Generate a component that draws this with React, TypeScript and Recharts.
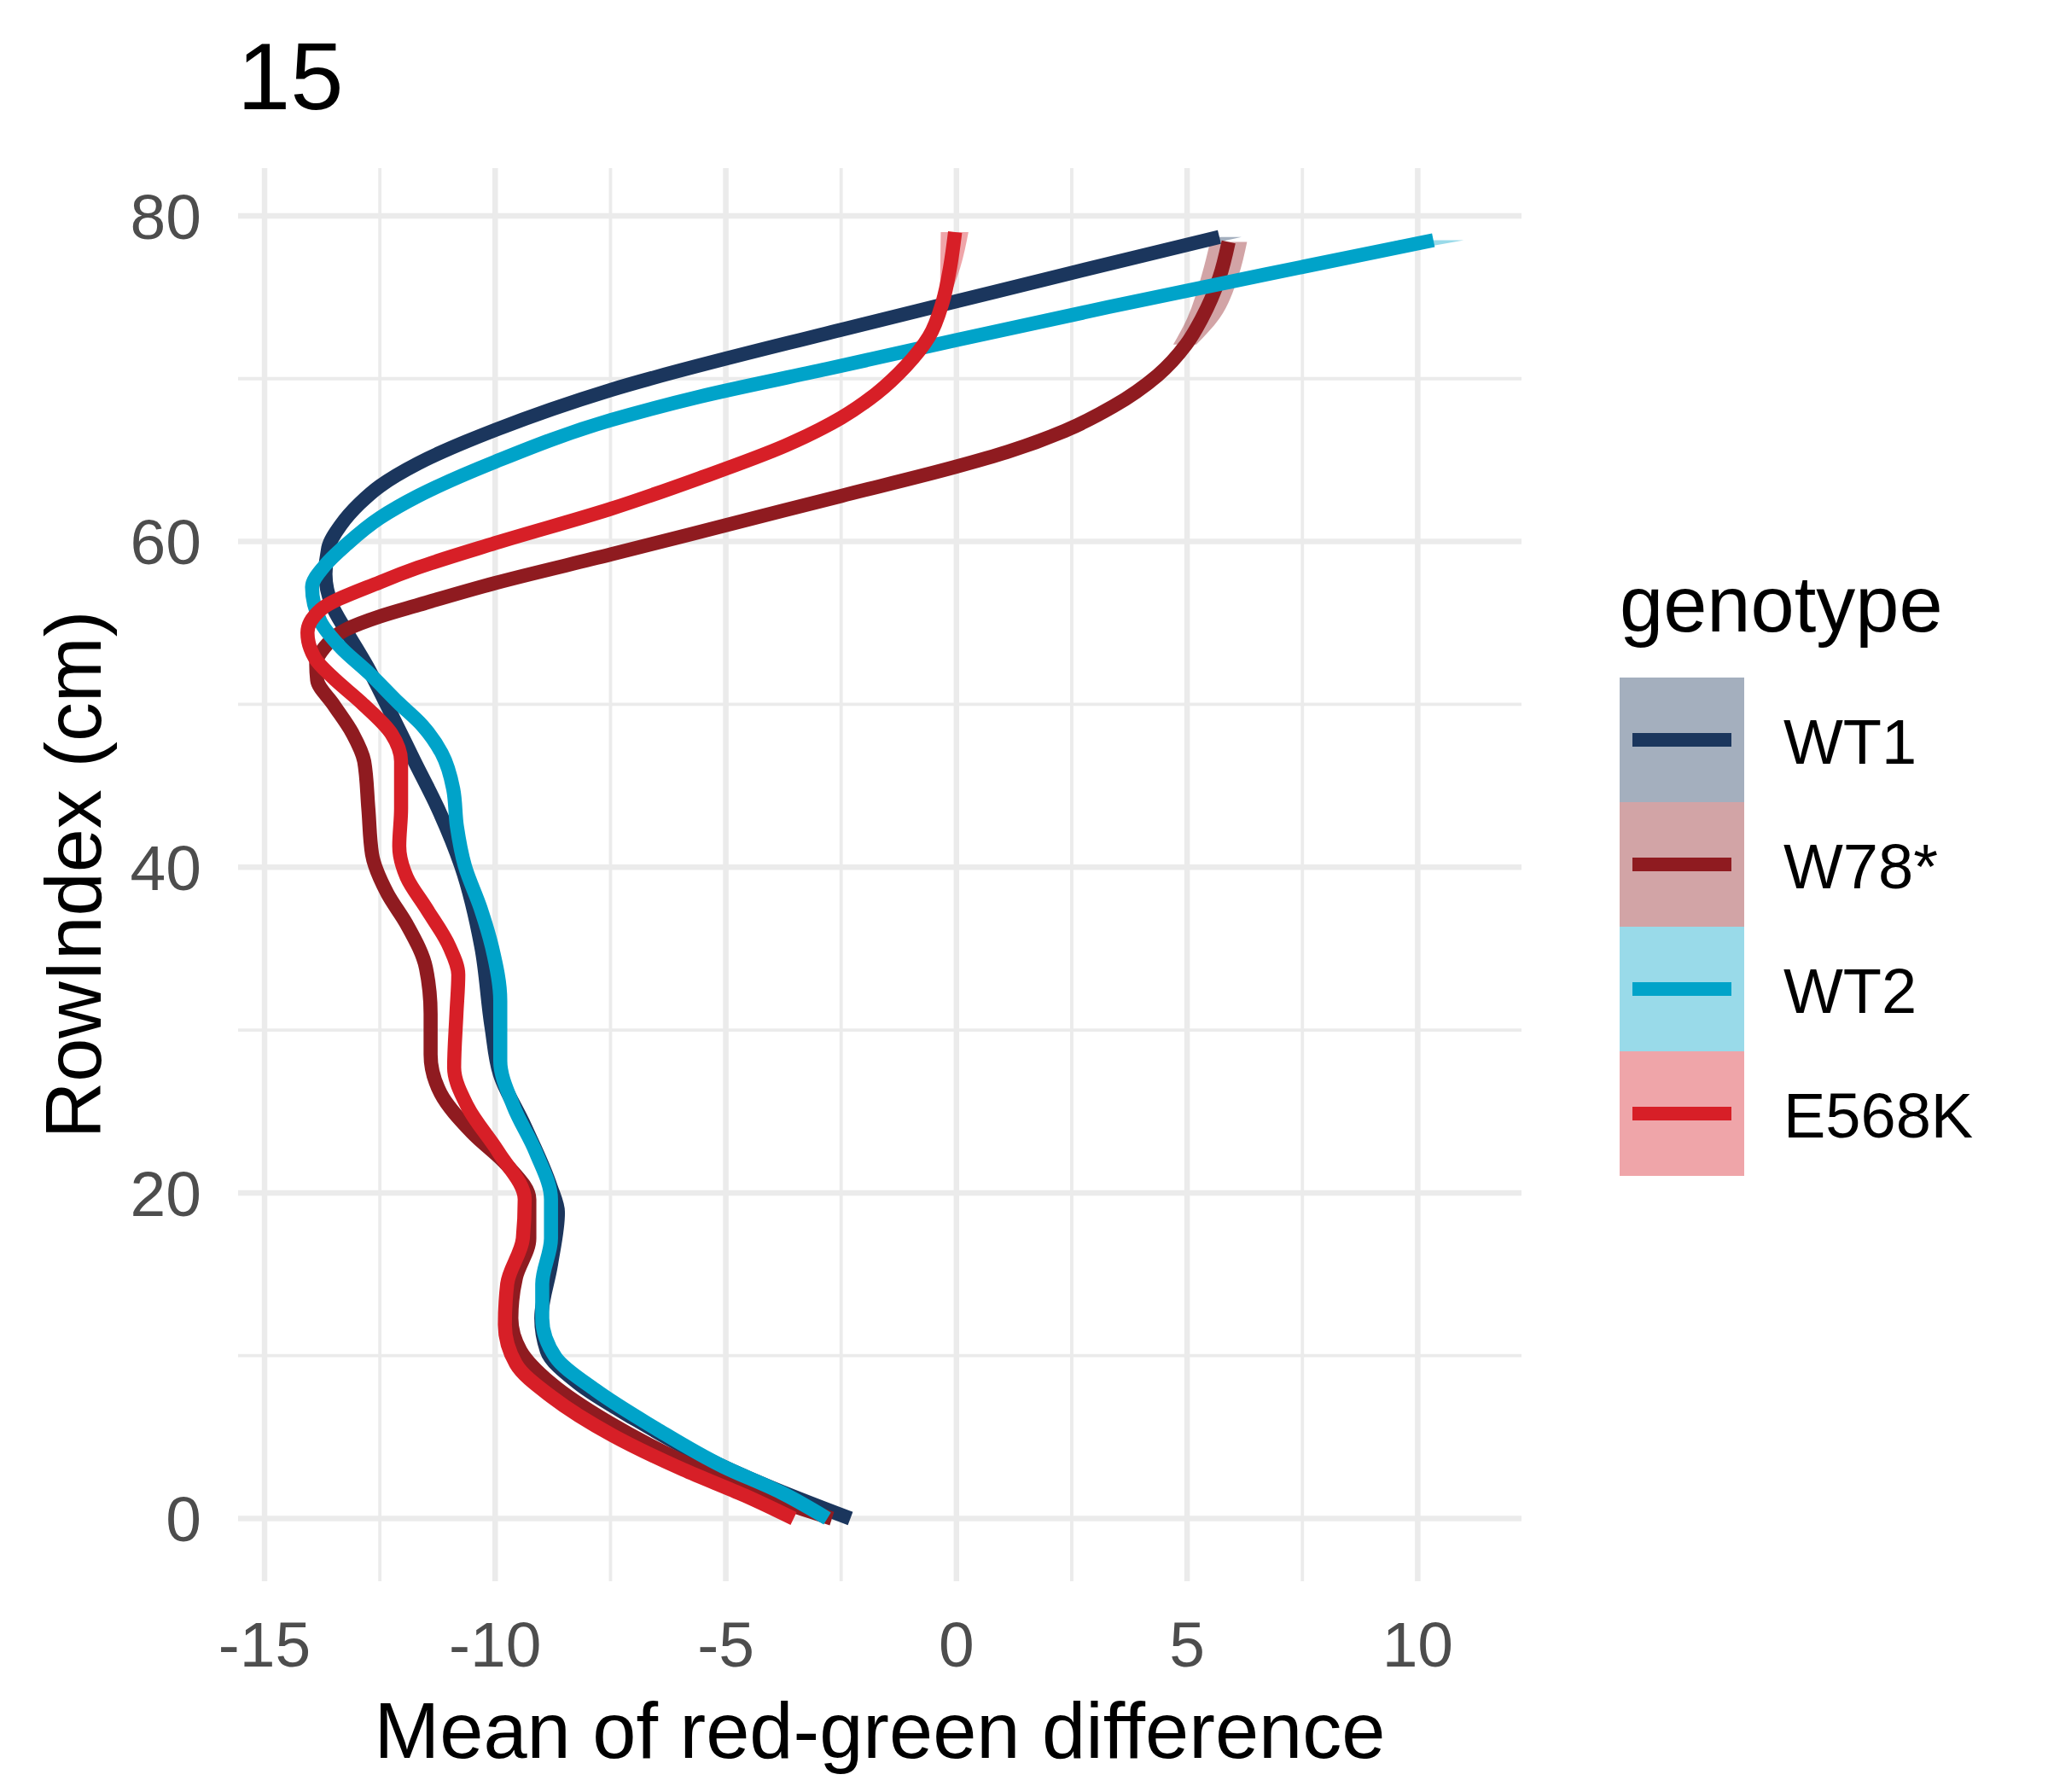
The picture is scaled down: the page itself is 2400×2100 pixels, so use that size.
import React from "react";
import { ComposedChart, Line, Area, XAxis, YAxis, CartesianGrid } from "recharts";

const FONT = "'Liberation Sans', Arial, sans-serif";

const genotypes = ["WT1", "W78*", "WT2", "E568K"];
const colors = ["#1b365d", "#8f1b20", "#00a3c9", "#d71f27"];

// smoothed curves (RowIndex in cm, mean red-green difference)
const wt1Row = [0, 2.0, 3.85, 6.1, 8.3, 10.3, 12.3, 15.6, 18.8, 20.4, 24.1, 27.3, 30.2, 35.1, 40.1, 43.6, 46.5, 49.1, 52.4, 54.5, 56.1, 58.0, 59.6, 61.0, 62.3, 63.4, 64.8, 66.85, 69.3, 73.0, 74.75, 76.5, 78.7];
const wt1Mean = [-2.3, -4.1, -5.54, -6.97, -8.2, -8.88, -9.0, -8.79, -8.64, -8.8, -9.36, -9.9, -10.08, -10.3, -10.74, -11.24, -11.75, -12.2, -12.79, -13.23, -13.54, -13.68, -13.62, -13.35, -12.95, -12.5, -11.67, -10.0, -7.5, -2.5, 0, 2.5, 5.7];

const w78Row = [0, 1.8, 3.6, 5.9, 8.3, 10.3, 12.3, 14.8, 17.2, 19.6, 21.7, 23.7, 26.1, 28.5, 31.0, 33.8, 36.5, 38.4, 40.8, 43.6, 46.5, 48.2, 50.0, 51.5, 52.5, 53.5, 54.6, 55.4, 56.1, 57.45, 59.2, 61.0, 62.8, 64.6, 65.5, 66.8, 68.3, 70.2, 72.1, 73.7, 76.2, 78.4];
const w78Mean = [-2.7, -4.56, -6.0, -7.54, -8.79, -9.45, -9.65, -9.55, -9.26, -9.26, -9.74, -10.5, -11.18, -11.4, -11.4, -11.5, -11.92, -12.34, -12.67, -12.75, -12.84, -13.09, -13.51, -13.86, -13.88, -13.7, -13.23, -12.5, -11.67, -10.0, -7.5, -5.0, -2.5, 0, 1.1, 2.35, 3.4, 4.36, 4.98, 5.32, 5.7, 5.9];

const wt2Row = [0, 1.6, 3.2, 5.5, 7.9, 9.9, 12.3, 14.4, 17.2, 19.6, 22.5, 25.3, 28.1, 31.8, 35.1, 37.5, 40.1, 42.5, 44.8, 47.0, 48.7, 50.1, 51.9, 53.5, 55.1, 57.2, 58.5, 59.8, 61.45, 62.8, 64.9, 67.45, 68.9, 70.6, 72.37, 74.4, 76.4, 78.5];
const wt2Mean = [-2.8, -3.8, -5.06, -6.5, -7.83, -8.69, -8.98, -8.98, -8.79, -8.79, -9.12, -9.6, -9.89, -9.89, -10.07, -10.32, -10.66, -10.83, -10.91, -11.16, -11.58, -12.1, -12.73, -13.35, -13.79, -13.97, -13.7, -13.23, -12.5, -11.67, -10.0, -7.5, -5.56, -2.8, 0, 3.3, 6.7, 10.34];

const e568Row = [0, 1.4, 3.0, 5.1, 7.5, 9.5, 11.9, 14.4, 17.2, 19.6, 22.5, 25.3, 27.7, 31.0, 33.4, 35.1, 37.5, 39.4, 41.3, 43.6, 46.5, 48.2, 50.1, 51.7, 52.8, 54.4, 55.8, 57.5, 58.4, 59.9, 62.0, 63.9, 65.9, 67.6, 69.1, 70.76, 72.56, 74.7, 76.8, 79.0];
const e568Mean = [-3.53, -4.58, -5.92, -7.45, -8.79, -9.55, -9.79, -9.74, -9.4, -9.36, -9.93, -10.6, -10.89, -10.84, -10.8, -10.99, -11.5, -11.92, -12.08, -12.04, -12.04, -12.25, -12.9, -13.54, -13.9, -14.07, -13.79, -12.5, -11.67, -10.0, -7.5, -5.56, -3.7, -2.5, -1.73, -1.1, -0.6, -0.3, -0.14, -0.03];

// confidence band, only where it shows past the line (top ends)
const wt1BandRow = [76.5, 78.7];
const wt1BandLo = [2.3, 5.35];
const wt1BandHi = [2.7, 6.18];
const w78BandRow = [72.1, 73.7, 76.2, 78.4];
const w78BandLo = [4.7, 5.0, 5.3, 5.5];
const w78BandHi = [5.2, 5.7, 6.1, 6.3];
const wt2BandRow = [76.4, 78.5];
const wt2BandLo = [6.5, 9.6];
const wt2BandHi = [6.85, 11.0];
const e568BandRow = [74.7, 76.8, 79.0];
const e568BandLo = [-0.36, -0.35, -0.34];
const e568BandHi = [-0.2, 0.08, 0.26];

const xTicks = [-15, -10, -5, 0, 5, 10];
const xMinor = [-12.5, -7.5, -2.5, 2.5, 7.5];
const yTicks = [0, 20, 40, 60, 80];
const yMinor = [10, 30, 50, 70];
const xDomain = [-15.574, 12.25];
const yDomain = [-3.85, 82.93];

const toRows = (rows: number[], means: number[]) => rows.map((y, i) => ({ y, x: means[i] }));
const toBand = (rows: number[], lo: number[], hi: number[]) => rows.map((y, i) => ({ y, lo: lo[i], hi: hi[i] }));

const curves = [toRows(wt1Row, wt1Mean), toRows(w78Row, w78Mean), toRows(wt2Row, wt2Mean), toRows(e568Row, e568Mean)];
const bands = [
  toBand(wt1BandRow, wt1BandLo, wt1BandHi),
  toBand(w78BandRow, w78BandLo, w78BandHi),
  toBand(wt2BandRow, wt2BandLo, wt2BandHi),
  toBand(e568BandRow, e568BandLo, e568BandHi),
];

const W = 2400;
const H = 2100;

function Legend() {
  const keyX = 1898;
  const keyY = 794;
  const key = 146;
  return (
    <svg width={W} height={H} style={{ position: "absolute", left: 0, top: 0, pointerEvents: "none" }}>
      <text x={278} y={128} fontSize={112} fontFamily={FONT} fill="#000">
        15
      </text>
      <text x={keyX} y={740} fontSize={92} fontFamily={FONT} fill="#000">
        genotype
      </text>
      {genotypes.map((g, i) => {
        const top = keyY + i * key;
        return (
          <g key={g}>
            <rect x={keyX} y={top} width={key} height={key} fill={colors[i]} fillOpacity={0.4} />
            <line x1={keyX + 15} x2={keyX + 131} y1={top + key / 2} y2={top + key / 2} stroke={colors[i]} strokeWidth={16} />
            <text x={2090} y={top + key / 2 + 28} fontSize={74} fontFamily={FONT} fill="#000">
              {g}
            </text>
          </g>
        );
      })}
    </svg>
  );
}

export default function App() {
  return (
    <div style={{ position: "absolute", left: 0, top: 0, width: W, height: H, background: "#fff", fontFamily: FONT }}>
      <ComposedChart width={W} height={H} layout="vertical" margin={{ top: 197, right: 617, bottom: 0, left: 0 }}>
        <CartesianGrid xAxisId="minorX" yAxisId="minorY" stroke="#ebebeb" strokeWidth={3.8} syncWithTicks />
        <CartesianGrid stroke="#ebebeb" strokeWidth={6.5} syncWithTicks />
        <XAxis
          type="number"
          domain={xDomain}
          ticks={xTicks}
          allowDataOverflow
          height={247}
          axisLine={false}
          tickLine={false}
          tickSize={0}
          tickMargin={47}
          tick={{ fill: "#4d4d4d", fontSize: 75, fontFamily: FONT }}
          label={{ value: "Mean of red-green difference", position: "insideBottom", offset: 40, fill: "#000", fontSize: 92, fontFamily: FONT }}
        />
        <XAxis xAxisId="minorX" type="number" domain={xDomain} ticks={xMinor} allowDataOverflow hide />
        <YAxis
          type="number"
          dataKey="y"
          domain={yDomain}
          ticks={yTicks}
          reversed
          allowDataOverflow
          width={279}
          axisLine={false}
          tickLine={false}
          tickSize={0}
          tickMargin={43}
          tick={{ fill: "#4d4d4d", fontSize: 75, fontFamily: FONT }}
          label={{
            value: "RowIndex (cm)",
            angle: -90,
            position: "insideLeft",
            offset: 85,
            fill: "#000",
            fontSize: 92,
            fontFamily: FONT,
            style: { textAnchor: "middle" },
          }}
        />
        <YAxis yAxisId="minorY" type="number" dataKey="y" domain={yDomain} ticks={yMinor} reversed allowDataOverflow hide />
        {genotypes.map((g, i) => (
          <Area
            key={"band-" + g}
            data={bands[i]}
            dataKey={(d: { lo: number; hi: number }) => [d.lo, d.hi]}
            type="monotone"
            stroke="none"
            fill={colors[i]}
            fillOpacity={0.4}
            isAnimationActive={false}
            activeDot={false}
          />
        ))}
        {genotypes.map((g, i) => (
          <Line
            key={g}
            name={g}
            data={curves[i]}
            dataKey="x"
            type="monotone"
            stroke={colors[i]}
            strokeWidth={16.5}
            strokeLinecap="butt"
            dot={false}
            activeDot={false}
            isAnimationActive={false}
          />
        ))}
      </ComposedChart>
      <Legend />
    </div>
  );
}
